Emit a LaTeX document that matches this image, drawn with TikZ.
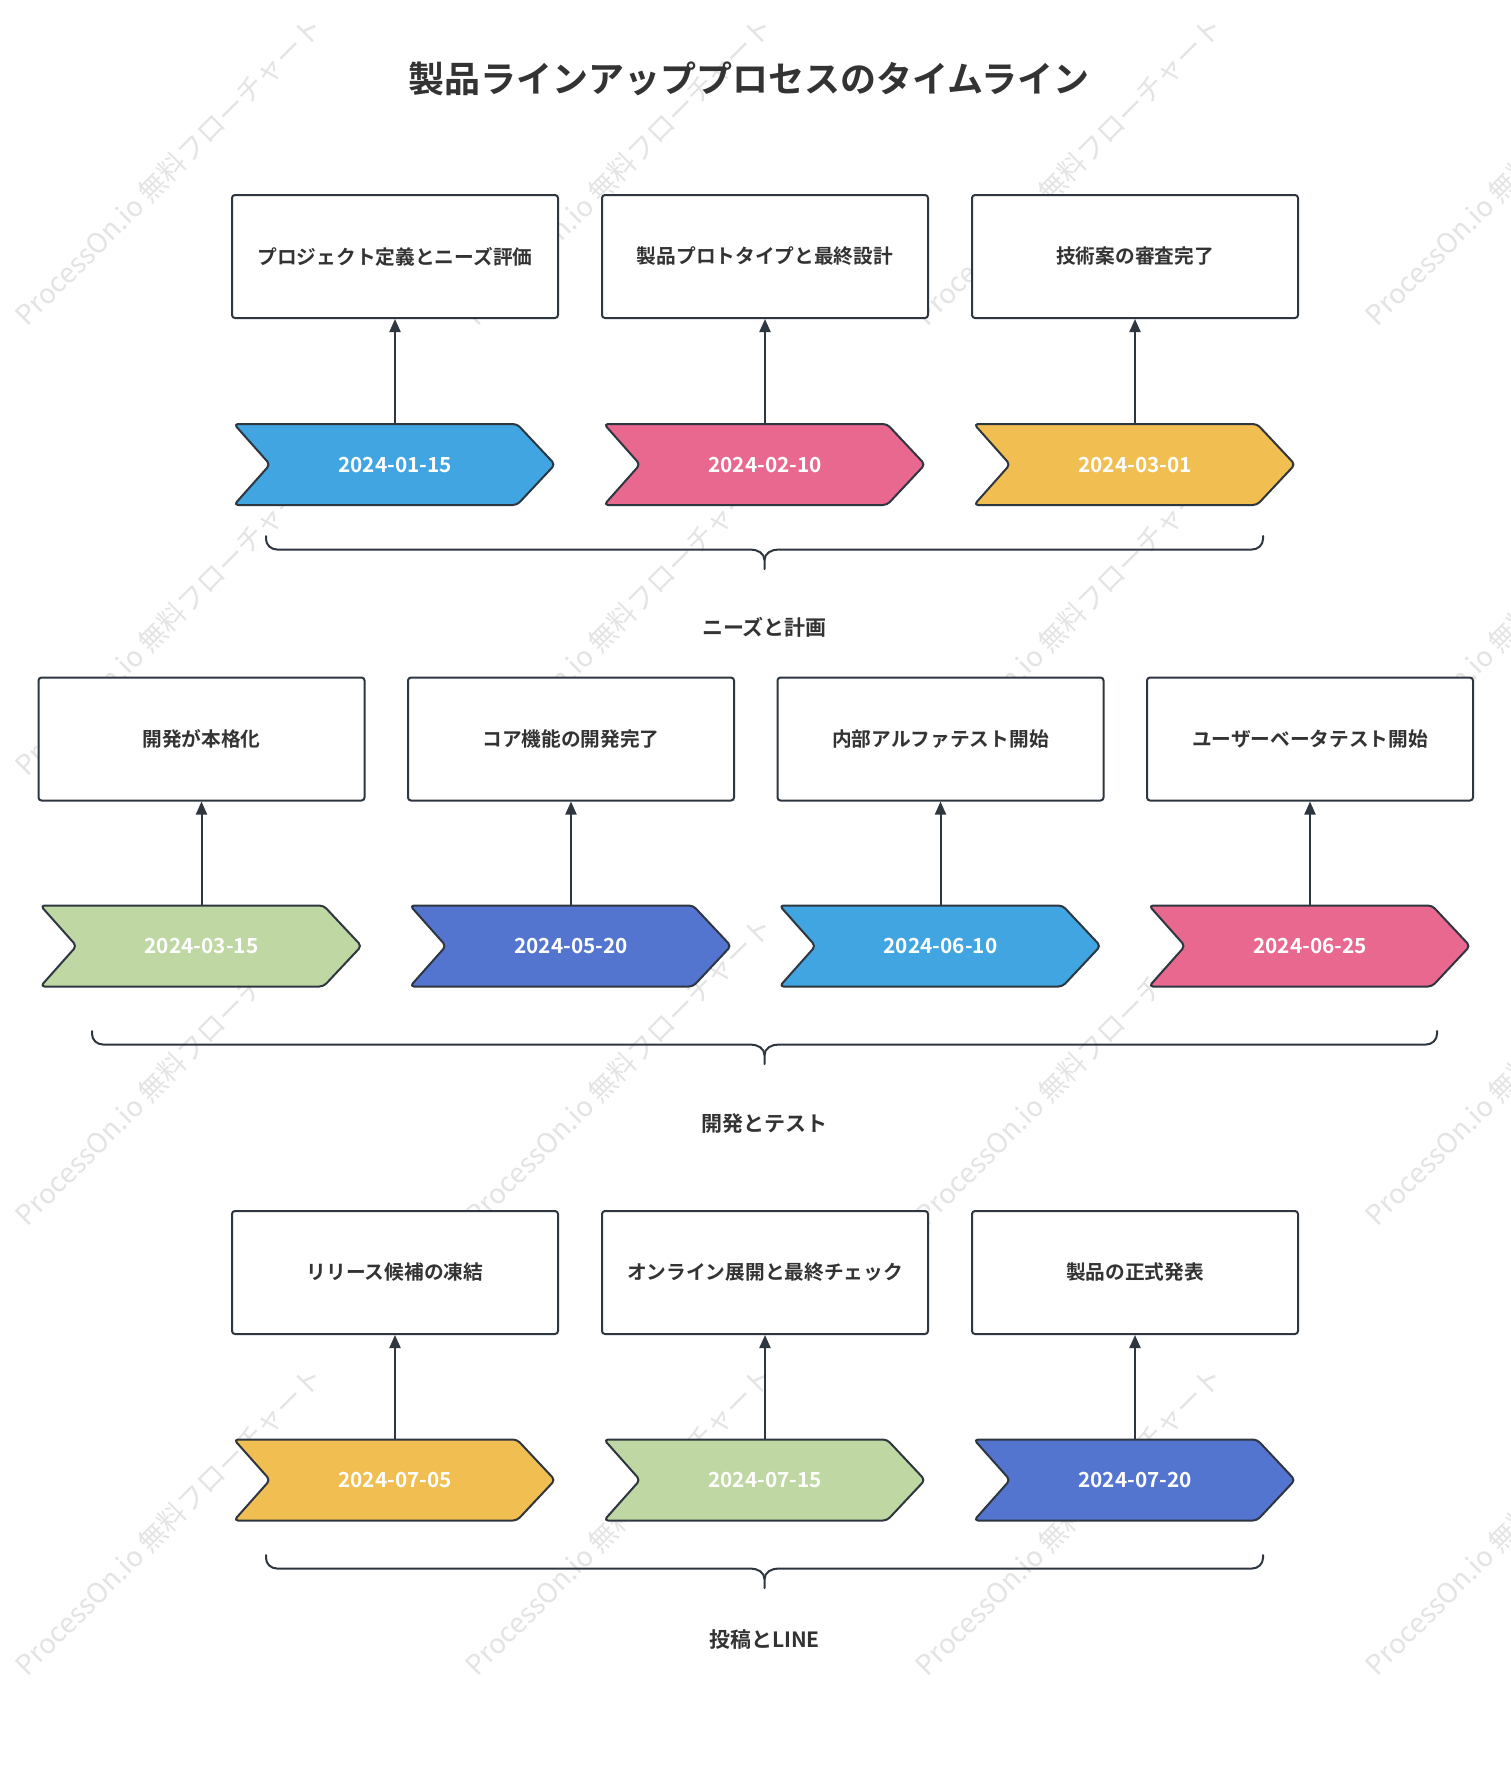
\documentclass[tikz,border=0pt]{standalone}
\usepackage{fontspec}
\setmainfont{Noto Sans CJK JP}[BoldFont={Noto Sans CJK JP Bold}]
\usetikzlibrary{arrows.meta,calc}
\definecolor{ink}{HTML}{333333}
\definecolor{edge}{HTML}{2E3640}
\definecolor{cblue}{HTML}{40A5E0}
\definecolor{cpink}{HTML}{E8688F}
\definecolor{cyellow}{HTML}{F1BE52}
\definecolor{cgreen}{HTML}{BED7A3}
\definecolor{cindigo}{HTML}{5375CF}
\definecolor{wm}{HTML}{E4E4E4}
\tikzset{
  evbox/.style={draw=edge,line width=2pt,fill=white,rounded corners=3pt,minimum width=326pt,minimum height=123pt,inner sep=0pt,text=ink,font=\fontsize{19.7}{23}\selectfont\bfseries},
  chevnode/.style={minimum width=321pt,minimum height=81pt,inner sep=0pt},
  chev/.style={draw=edge,line width=2pt,rounded corners=4pt,line join=round},
  datetext/.style={text=white,font=\fontsize{20.8}{24}\selectfont\bfseries},
  conn/.style={draw=edge,line width=2pt,-{Triangle[length=13pt,width=11pt]}},
  bracestyle/.style={draw=edge,line width=2pt,line cap=round},
  grouplabel/.style={text=ink,font=\fontsize{21}{25}\selectfont\bfseries},
  wmark/.style={text=wm,rotate=45,font=\fontsize{27.5}{32}\selectfont}
}
\newcommand\milestone[7]{%
  \node[evbox] (b#1) at (#2,#3) {#7};
  \node[chevnode] (d#1) at (#2,#4) {};
  \draw[chev,fill=#5] ($(d#1.center)+(-161,-40.5)$) -- ($(d#1.center)+(122,-40.5)$) -- ($(d#1.center)+(160,0)$) -- ($(d#1.center)+(122,40.5)$) -- ($(d#1.center)+(-161,40.5)$) -- ($(d#1.center)+(-125,0)$) -- cycle;
  \node[datetext] (t#1) at (d#1.center) {#6};
  \draw[conn] (d#1.north) -- (b#1.south);
}
\newcommand\grpbrace[4]{% name, left, right, top y
  \coordinate (#1l) at (#2,#4);
  \coordinate (#1r) at (#3,#4);
  \coordinate (#1c) at ({(#2+#3)/2},#4+33);
  \draw[bracestyle] (#1l) -- ++(0,3) to[out=-90,in=180] ++(11,10.5) -- ($(#1c)+(-14,-19.5)$) to[out=0,in=90] ($(#1c)+(0,-9)$) -- (#1c);
  \draw[bracestyle] (#1r) -- ++(0,3) to[out=-90,in=0] ++(-11,10.5) -- ($(#1c)+(14,-19.5)$) to[out=180,in=90] ($(#1c)+(0,-9)$);
}
\begin{document}
\begin{tikzpicture}[x=1pt,y=-1pt]
\useasboundingbox (0,0) rectangle (1511,1765);
\fill[white] (0,0) rectangle (1511,1765);
% watermarks
\foreach \wx in {169,619,1069,1519}{
  \foreach \wy in {171,621,1071,1521}{
    \node[wmark] at (\wx,\wy) {ProcessOn.io 無料フローチャート};
  }
}
\node[text=ink,font=\fontsize{36}{42}\selectfont\bfseries] (title) at (749,79) {製品ラインアッププロセスのタイムライン};
% row 1
\milestone{1}{395}{256.5}{464.5}{cblue}{2024-01-15}{プロジェクト定義とニーズ評価}
\milestone{2}{765}{256.5}{464.5}{cpink}{2024-02-10}{製品プロトタイプと最終設計}
\milestone{3}{1135}{256.5}{464.5}{cyellow}{2024-03-01}{技術案の審査完了}
% row 2
\milestone{4}{201.5}{739}{946}{cgreen}{2024-03-15}{開発が本格化}
\milestone{5}{571}{739}{946}{cindigo}{2024-05-20}{コア機能の開発完了}
\milestone{6}{940.5}{739}{946}{cblue}{2024-06-10}{内部アルファテスト開始}
\milestone{7}{1310}{739}{946}{cpink}{2024-06-25}{ユーザーベータテスト開始}
% row 3
\milestone{8}{395}{1272.5}{1480}{cyellow}{2024-07-05}{リリース候補の凍結}
\milestone{9}{765}{1272.5}{1480}{cgreen}{2024-07-15}{オンライン展開と最終チェック}
\milestone{10}{1135}{1272.5}{1480}{cindigo}{2024-07-20}{製品の正式発表}
% braces
\grpbrace{g1}{266}{1263}{536}
\node[grouplabel] (l1) at (764.5,627) {ニーズと計画};
\grpbrace{g2}{92}{1437}{1031}
\node[grouplabel] (l2) at (764.5,1124) {開発とテスト};
\grpbrace{g3}{266}{1263}{1555}
\node[grouplabel] (l3) at (764.5,1640) {投稿とLINE};
\end{tikzpicture}
\end{document}
